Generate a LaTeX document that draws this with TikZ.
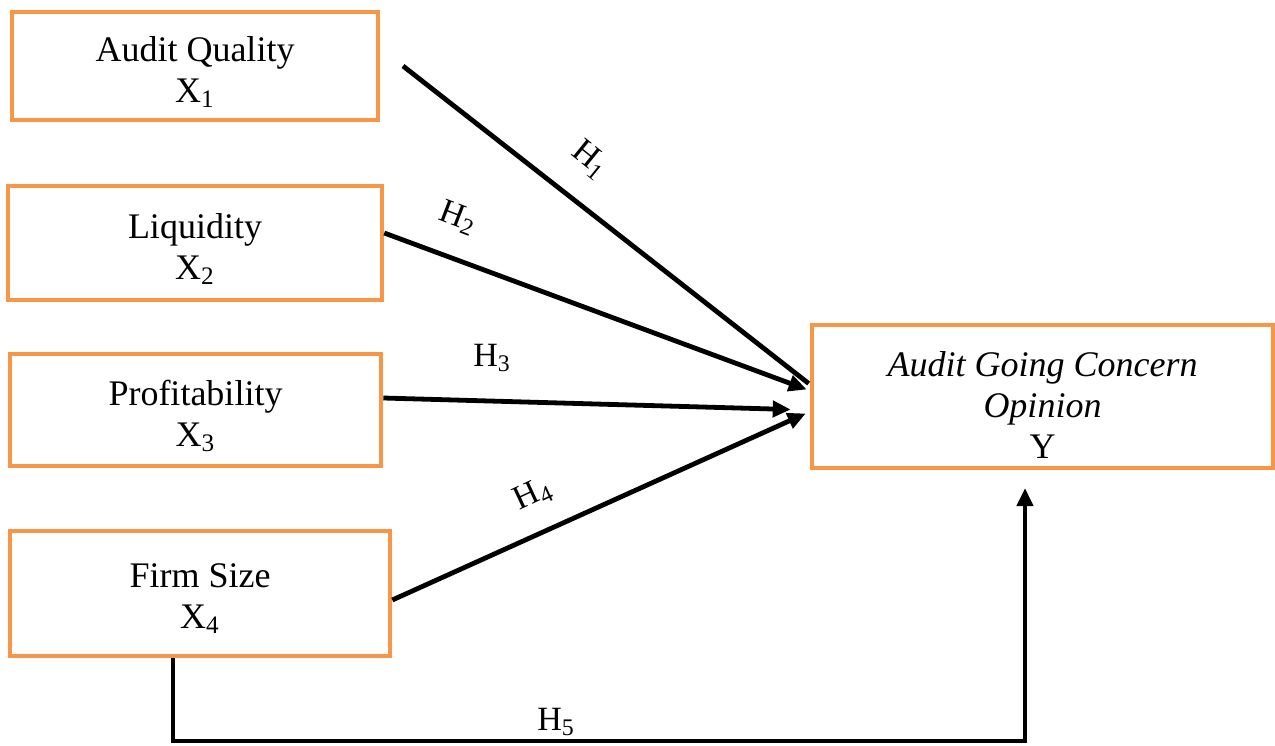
\documentclass[tikz,border=0pt]{standalone}
\usepackage{fontspec}
\setmainfont{Liberation Serif}
\usetikzlibrary{arrows.meta,calc}
\definecolor{boxorange}{HTML}{F79646}
\begin{document}
\begin{tikzpicture}[x=0.5pt,y=-0.5pt,
  var/.style={draw=boxorange, line width=2.3pt, inner sep=0pt},
  vartext/.style={align=center, inner sep=0pt, font=\fontsize{18}{20.5}\selectfont},
  link/.style={line width=2.4pt, draw=black},
  head/.style={-{Triangle[length=9pt,width=8pt]}},
  hyp/.style={font=\fontsize{17}{19}\selectfont, inner sep=1pt}]
\useasboundingbox (0,0) rectangle (1275,745);

% independent variables (frame, then its caption)
\node[var, minimum width=183pt, minimum height=54pt] (x1) at (195,66) {};
\node[vartext] (x1t) at ($(x1)+(0,6)$) {Audit Quality\\X\textsubscript{1}};
\node[var, minimum width=187pt, minimum height=57pt] (x2) at (195,243) {};
\node[vartext] (x2t) at ($(x2)+(0,6)$) {Liquidity\\X\textsubscript{2}};
\node[var, minimum width=185.5pt, minimum height=56pt] (x3) at (195.5,410) {};
\node[vartext] (x3t) at ($(x3)+(0,6)$) {Profitability\\X\textsubscript{3}};
\node[var, minimum width=190pt, minimum height=62.5pt] (x4) at (200,593.5) {};
\node[vartext] (x4t) at ($(x4)+(0,5)$) {Firm Size\\X\textsubscript{4}};

% dependent variable
\node[var, minimum width=230.5pt, minimum height=71.5pt] (y) at (1042.5,396.5) {};
\node[vartext] (yt) at ($(y)+(0,9)$)
  {\itshape Audit Going Concern\\\itshape Opinion\\Y};

% hypothesis paths
\coordinate (h1s) at (403,66);
\draw[link] (h1s) -- ($(y.west)+(-1,-13)$);
\draw[link,head] ($(x2.east)+(0,-10)$) -- ($(y.west)+(-3,-7)$);
\draw[link,head] ($(x3.east)+(0,-12)$) -- ($(y.west)+(-19,13)$);
\draw[link,head] ($(x4.east)+(0,6.5)$) -- ($(y.west)+(-4,17)$);

\coordinate (h5a) at (173,741);
\coordinate (h5b) at (1025,741);
\coordinate (h5e) at (1025,488);
\draw[link,head] (x4.south -| h5a) -- (h5a) -- (h5b) -- (h5e);

% hypothesis labels
\node[hyp, rotate=-39] (l1) at (590,160) {H\textsubscript{1}};
\node[hyp, rotate=-21] (l2) at (458,218) {H\textsubscript{2}};
\node[hyp] (l3) at (492,358) {H\textsubscript{3}};
\node[hyp, rotate=25] (l4) at (533,495) {H\textsubscript{4}};
\node[hyp] (l5) at (556,722) {H\textsubscript{5}};
\end{tikzpicture}
\end{document}
